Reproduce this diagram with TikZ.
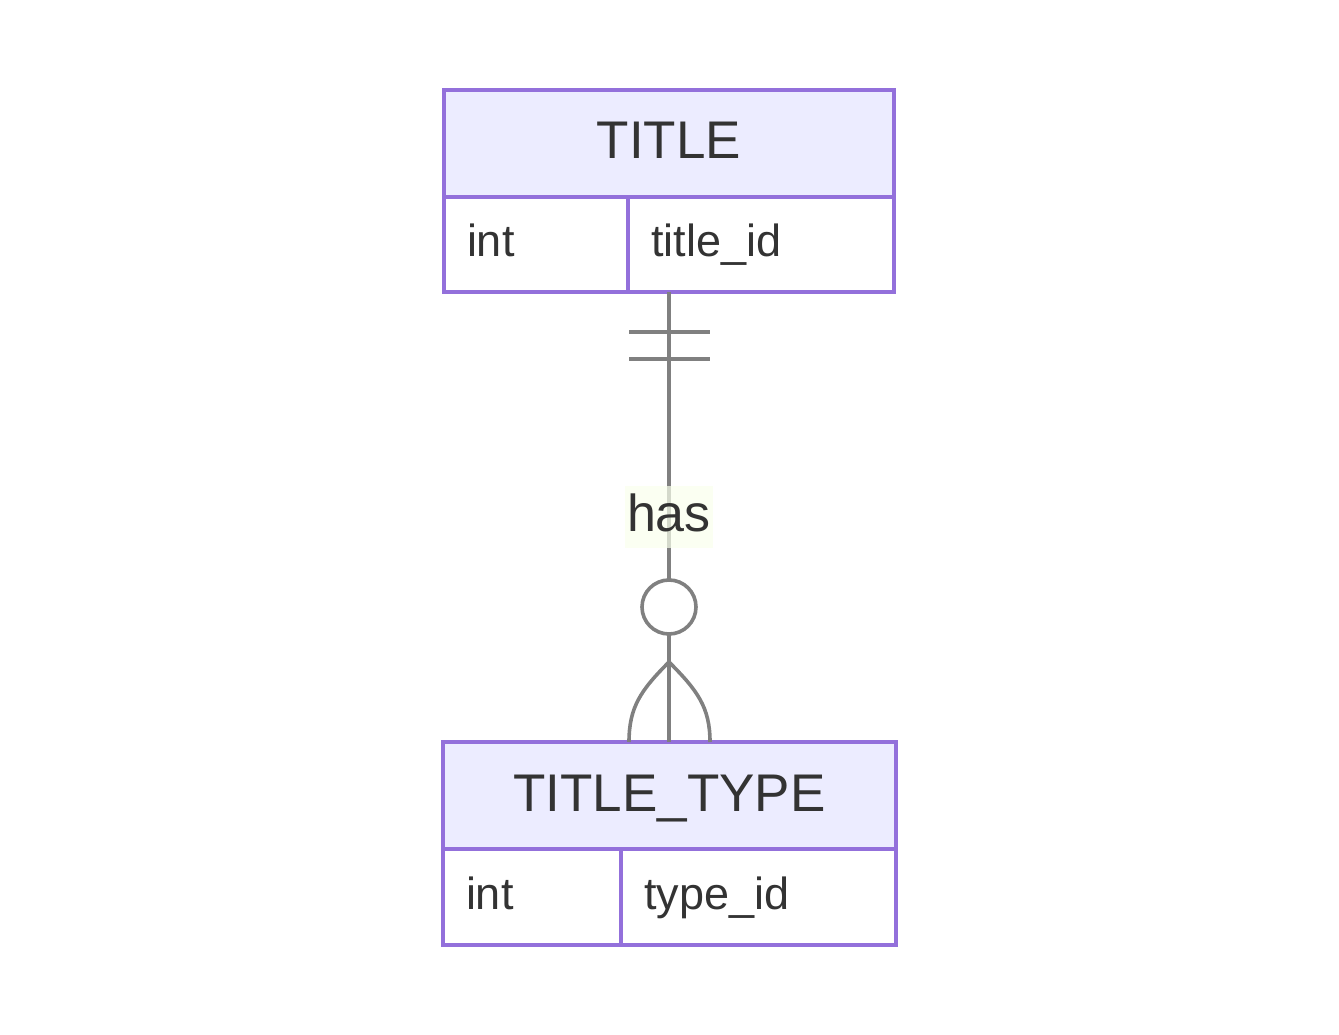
\documentclass[tikz,border=0pt]{standalone}
\usepackage{fontspec}
\setmainfont{Liberation Sans}
\usetikzlibrary{calc}
\definecolor{erborder}{HTML}{9370DB}
\definecolor{erhead}{HTML}{ECECFF}
\definecolor{ertext}{HTML}{333333}
\definecolor{erline}{HTML}{808080}
\definecolor{erlabel}{HTML}{F9FFEC}

\begin{document}
\begin{tikzpicture}[x=1pt,y=-1pt,
  head/.style={draw=erborder,fill=erhead,line width=3.6pt,outer sep=0pt,text=ertext,
    font=\fontsize{53}{64}\selectfont,text height=42pt,text depth=11pt,minimum height=107pt},
  cell/.style={draw=erborder,fill=white,line width=3.6pt,outer sep=0pt,text=ertext,anchor=north west,
    font=\fontsize{45}{54}\selectfont,text height=36pt,text depth=11pt,align=left,inner xsep=23pt},
  rel/.style={draw=erline,line width=3.6pt},
  rellabel/.style={fill=erlabel,fill opacity=0.7,text opacity=1,text=ertext,
    font=\fontsize{52}{62}\selectfont,text height=42pt,text depth=13pt,inner xsep=2pt,minimum height=61pt}]
\useasboundingbox (0,0) rectangle (1339,1035);

% entities
\node[head,minimum width=450pt] (title) at (669,143.5) {TITLE};
\node[cell,text width=138pt,minimum height=95pt] (titletype) at (title.south west) {int};
\node[cell,text width=220pt,minimum height=95pt] (titlename) at (titletype.north east) {title\_id};

\node[head,minimum width=453pt] (ttype) at (669.5,795.5) {TITLE\_TYPE};
\node[cell,text width=132pt,minimum height=96pt] (ttypetype) at (ttype.south west) {int};
\node[cell,text width=229pt,minimum height=96pt] (ttypename) at (ttypetype.north east) {type\_id};

% relationship
\coordinate (one) at (title.center |- titletype.south);
\coordinate (many) at (one |- ttype.north);
\draw[rel] (one) -- node[rellabel] (has) {has} (many);
% exactly one
\draw[rel] ($(one)+(-40,40)$) -- ++(81,0);
\draw[rel] ($(one)+(-40,67)$) -- ++(81,0);
% zero or many
\draw[rel,fill=white] ($(many)+(0,-135)$) circle[radius=27];
\draw[rel] ($(many)+(0,-80)$) .. controls +(-28,28) and +(0,-35) .. ++(-40,80);
\draw[rel] ($(many)+(0,-80)$) .. controls +(28,28) and +(0,-35) .. ++(41,80);
\end{tikzpicture}
\end{document}
